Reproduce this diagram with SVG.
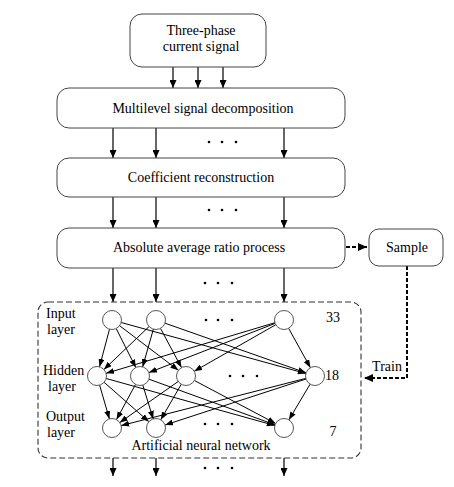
<svg xmlns="http://www.w3.org/2000/svg" width="454" height="487" viewBox="0 0 454 487">
<defs>
<style>
text{font-family:"Liberation Serif","Times New Roman",Times,serif;font-size:14px;fill:#000}
.box{fill:#fff;stroke:#444;stroke-width:1}
.a{stroke:#000;stroke-width:1.2;fill:none;marker-end:url(#ah)}
.n{stroke:#000;stroke-width:1;fill:none;marker-end:url(#an)}
.d{stroke:#000;stroke-width:2;fill:none;stroke-dasharray:4 2}
.node{fill:#fff;stroke:#444;stroke-width:0.9}
.dot{fill:#000}
</style>
<marker id="ah" markerUnits="userSpaceOnUse" markerWidth="8" markerHeight="7" refX="8" refY="3.5" orient="auto"><path d="M0,0 L8,3.5 L0,7 z" fill="#000"/></marker>
<marker id="an" markerUnits="userSpaceOnUse" markerWidth="8" markerHeight="6" refX="8" refY="3" orient="auto"><path d="M0,0 L8,3 L0,6 z" fill="#000"/></marker>
<marker id="ad" markerUnits="userSpaceOnUse" markerWidth="9" markerHeight="8" refX="9" refY="4" orient="auto"><path d="M0,0 L9,4 L0,8 z" fill="#000"/></marker>
</defs>
<rect width="454" height="487" fill="#fff"/>

<g id="connectors">
<line class="a" x1="173" y1="67" x2="173" y2="88"/>
<line class="a" x1="198" y1="67" x2="198" y2="88"/>
<line class="a" x1="223" y1="67" x2="223" y2="88"/>
<line class="a" x1="113" y1="128" x2="113" y2="158"/>
<line class="a" x1="156" y1="128" x2="156" y2="158"/>
<line class="a" x1="284" y1="128" x2="284" y2="158"/>
<line class="a" x1="113" y1="197" x2="113" y2="228"/>
<line class="a" x1="156" y1="197" x2="156" y2="228"/>
<line class="a" x1="284" y1="197" x2="284" y2="228"/>
<line class="a" x1="113" y1="268" x2="113" y2="302"/>
<line class="a" x1="156" y1="268" x2="156" y2="302"/>
<line class="a" x1="284" y1="268" x2="284" y2="302"/>
<line class="a" x1="113" y1="458" x2="113" y2="476"/>
<line class="a" x1="156" y1="458" x2="156" y2="476"/>
<line class="a" x1="284" y1="458" x2="284" y2="476"/>
<line class="d" x1="346" y1="247" x2="367" y2="247" marker-end="url(#ad)"/>
<polyline class="d" points="407,266 407,378 364,378" marker-end="url(#ad)"/>

<line class="n" x1="109.5" y1="329.2" x2="99.5" y2="366.8"/>
<line class="n" x1="116.2" y1="328.5" x2="135.8" y2="367.5"/>
<line class="n" x1="119.6" y1="325.7" x2="178.4" y2="370.3"/>
<line class="n" x1="121.2" y1="322.5" x2="305.8" y2="373.5"/>
<line class="n" x1="149.1" y1="326.5" x2="103.9" y2="369.5"/>
<line class="n" x1="153.4" y1="329.1" x2="142.6" y2="366.9"/>
<line class="n" x1="160.5" y1="328.4" x2="181.5" y2="367.6"/>
<line class="n" x1="165" y1="323.2" x2="306" y2="372.8"/>
<line class="n" x1="274.9" y1="322.7" x2="106.1" y2="373.3"/>
<line class="n" x1="275.1" y1="323.4" x2="148.9" y2="372.6"/>
<line class="n" x1="275.8" y1="324.7" x2="194.2" y2="371.3"/>
<line class="n" x1="288.6" y1="328.3" x2="310.4" y2="367.7"/>

<line class="n" x1="99.6" y1="385.1" x2="109.4" y2="418.9"/>
<line class="n" x1="104.1" y1="382.3" x2="148.9" y2="421.7"/>
<line class="n" x1="106.2" y1="378.5" x2="274.8" y2="425.5"/>
<line class="n" x1="135.5" y1="384.4" x2="116.5" y2="419.6"/>
<line class="n" x1="142.8" y1="385.1" x2="153.2" y2="418.9"/>
<line class="n" x1="148.9" y1="379.2" x2="275.1" y2="424.8"/>
<line class="n" x1="178.2" y1="381.5" x2="119.8" y2="422.5"/>
<line class="n" x1="181.3" y1="384.2" x2="160.7" y2="419.8"/>
<line class="n" x1="194.4" y1="380.5" x2="275.6" y2="423.5"/>
<line class="n" x1="305.8" y1="378.4" x2="121.2" y2="425.6"/>
<line class="n" x1="306" y1="379" x2="165" y2="425"/>
<line class="n" x1="310.1" y1="384.2" x2="288.9" y2="419.8"/>
</g>

<g id="dots">
<circle class="dot" cx="209" cy="142" r="1.3"/><circle class="dot" cx="222" cy="142" r="1.3"/><circle class="dot" cx="236" cy="142" r="1.3"/>
<circle class="dot" cx="209" cy="210" r="1.3"/><circle class="dot" cx="222" cy="210" r="1.3"/><circle class="dot" cx="236" cy="210" r="1.3"/>
<circle class="dot" cx="205" cy="283" r="1.3"/><circle class="dot" cx="218" cy="283" r="1.3"/><circle class="dot" cx="232" cy="283" r="1.3"/>
<circle class="dot" cx="206" cy="320" r="1.3"/><circle class="dot" cx="218" cy="320" r="1.3"/><circle class="dot" cx="232" cy="320" r="1.3"/>
<circle class="dot" cx="230" cy="376" r="1.3"/><circle class="dot" cx="243" cy="376" r="1.3"/><circle class="dot" cx="257" cy="376" r="1.3"/>
<circle class="dot" cx="205" cy="424" r="1.3"/><circle class="dot" cx="218" cy="424" r="1.3"/><circle class="dot" cx="232" cy="424" r="1.3"/>
<circle class="dot" cx="205" cy="468" r="1.3"/><circle class="dot" cx="218" cy="468" r="1.3"/><circle class="dot" cx="232" cy="468" r="1.3"/>
</g>

<g font-family="Liberation Serif, Times New Roman, serif" font-size="14">
<g id="n-signal"><rect class="box" x="130" y="14" width="136" height="53" rx="12"/>
<text x="201" y="35" text-anchor="middle">Three-phase</text>
<text x="201" y="51" text-anchor="middle">current signal</text></g>

<g id="n-decomp"><rect class="box" x="57" y="88" width="288" height="40" rx="12"/>
<text x="203" y="113" text-anchor="middle">Multilevel signal decomposition</text></g>

<g id="n-recon"><rect class="box" x="57" y="158" width="288" height="39" rx="12"/>
<text x="201" y="182" text-anchor="middle">Coefficient reconstruction</text></g>

<g id="n-aarp"><rect class="box" x="57" y="228" width="288" height="40" rx="12"/>
<text x="199" y="252" text-anchor="middle">Absolute average ratio process</text></g>

<g id="n-sample"><rect class="box" x="369" y="229" width="74" height="37" rx="10"/>
<text x="407" y="252" text-anchor="middle">Sample</text></g>

<g id="n-ann">
<rect x="38" y="302" width="323" height="156" rx="10" fill="none" stroke="#333" stroke-width="1.1" stroke-dasharray="6 3"/>
<text x="46" y="318">Input</text><text x="47" y="334">layer</text>
<text x="43" y="375">Hidden</text><text x="48" y="391">layer</text>
<text x="46" y="421">Output</text><text x="47" y="437">layer</text>
<text x="333" y="322" text-anchor="middle">33</text>
<text x="325" y="380">18</text>
<text x="333" y="436" text-anchor="middle">7</text>
<text x="201" y="450" text-anchor="middle">Artificial neural network</text>
<circle class="node" cx="112" cy="320" r="9.5"/>
<circle class="node" cx="156" cy="320" r="9.5"/>
<circle class="node" cx="284" cy="320" r="9.5"/>
<circle class="node" cx="97" cy="376" r="9.5"/>
<circle class="node" cx="140" cy="376" r="9.5"/>
<circle class="node" cx="186" cy="376" r="9.5"/>
<circle class="node" cx="315" cy="376" r="9.5"/>
<circle class="node" cx="112" cy="428" r="9.5"/>
<circle class="node" cx="156" cy="428" r="9.5"/>
<circle class="node" cx="284" cy="428" r="9.5"/>
</g>

<g id="t-train"><text x="387" y="371" text-anchor="middle">Train</text></g>
</g>
</svg>
